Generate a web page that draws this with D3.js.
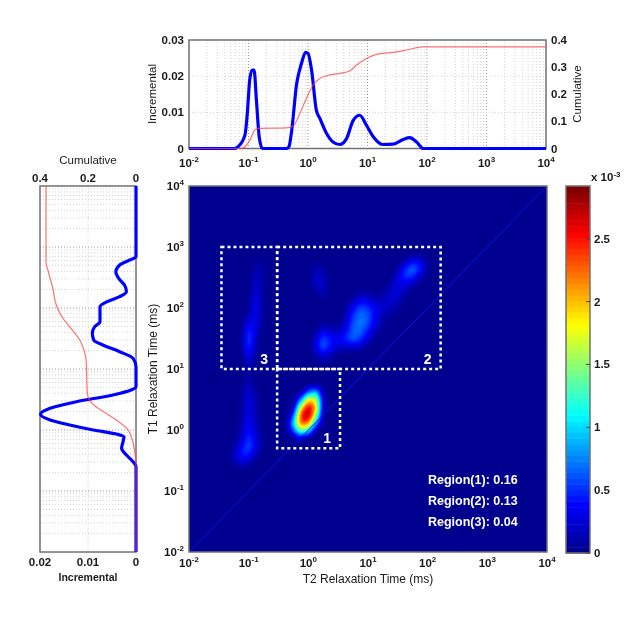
<!DOCTYPE html>
<html lang="en">
<head>
<meta charset="UTF-8">
<title>T1-T2 relaxation map</title>
<script src="https://cdn.jsdelivr.net/npm/d3@7"></script>
<style>
  body { margin: 0; background: #fff; }
  svg { display: block; font-family: "Liberation Sans", Arial, sans-serif; filter: blur(0.35px); }
  text { fill: #1a1a1a; }
  .tick-label { font-size: 11.5px; font-weight: bold; }
  .title { font-size: 11.5px; }
  .frame { fill: none; stroke: #707070; stroke-width: 1.5px; }
  .grid-minor { stroke: #d2d2d2; stroke-width: 1px; stroke-dasharray: 1 2; }
  .grid-major { stroke: #999; stroke-width: 1px; stroke-dasharray: 1 2; }
  .incremental { fill: none; stroke: #0000ff; stroke-width: 3.2px; }
  .cumulative { fill: none; stroke: #ff4040; stroke-width: 1.2px; stroke-opacity: .75; }
  .region { fill: none; stroke: #fff; stroke-width: 2.5px; stroke-dasharray: 3 3; }
  .note { fill: #fff; font-weight: bold; }
</style>
</head>
<body>
<svg width="640" height="624"></svg>
<script>
// axis ticks
const decades = [-2, -1, 0, 1, 2, 3, 4];
const incTicks = [0, 0.01, 0.02, 0.03];
const cumTicks = [0, 0.1, 0.2, 0.3, 0.4];
const sideIncTicks = [0, 0.01, 0.02];
const sideCumTicks = [0, 0.2, 0.4];
const colorTicks = [0, 0.5, 1, 1.5, 2, 2.5];

// T2 projection (top plot), log10(ms)
const t2IncLog = [-2, -1.23, -1.175, -1.06, -1.02, -0.98, -0.94, -0.906, -0.867, -0.82, -0.766, -0.36, -0.32, -0.28, -0.19, -0.11, -0.04, 0, 0.06, 0.14, 0.2, 0.31, 0.42, 0.535, 0.65, 0.76, 0.87, 0.98, 1.1, 1.26, 1.43, 1.6, 1.71, 1.825, 1.94, 4];
const t2Inc = [0, 0, 0.0005, 0.0037, 0.0097, 0.0189, 0.0217, 0.0217, 0.0134, 0.0032, 0, 0, 0.0005, 0.0042, 0.018, 0.0235, 0.0266, 0.0263, 0.0217, 0.0106, 0.0083, 0.0042, 0.0018, 0.0011, 0.0028, 0.0078, 0.0092, 0.0065, 0.0032, 0.0011, 0.0012, 0.0025, 0.003, 0.0018, 0, 0];
const t2CumLog = [-2, -1.147, -1.063, -0.979, -0.895, -0.839, -0.362, -0.25, -0.138, -0.026, 0.086, 0.199, 0.311, 0.535, 0.703, 0.815, 0.984, 1.152, 1.489, 1.713, 1.937, 4];
const t2Cum = [0, 0, 0.006, 0.03, 0.068, 0.074, 0.076, 0.082, 0.129, 0.185, 0.234, 0.258, 0.268, 0.277, 0.286, 0.308, 0.332, 0.347, 0.356, 0.366, 0.375, 0.375];

// T1 projection (left plot), log10(ms)
const t1IncLog = [4, 2.84, 2.787, 2.705, 2.595, 2.486, 2.377, 2.268, 2.186, 2.104, 2.022, 1.913, 1.776, 1.694, 1.585, 1.475, 1.393, 1.284, 1.175, 1.038, 0.71, 0.656, 0.574, 0.464, 0.355, 0.257, 0.164, 0.082, 0, -0.066, -0.11, -0.19, -0.3, -0.41, -0.52, -0.6, -2];
const t1Inc = [0, 0, 0.0013, 0.0034, 0.0042, 0.0036, 0.0024, 0.002, 0.0034, 0.006, 0.0075, 0.0075, 0.0075, 0.0086, 0.0091, 0.0088, 0.0069, 0.0034, 0.0006, 0, 0, 0.001, 0.0048, 0.0124, 0.0179, 0.0199, 0.0179, 0.0138, 0.0089, 0.0041, 0.0025, 0.0027, 0.003, 0.002, 0.0006, 0, 0];
const t1CumLog = [4, 2.74, 2.62, 2.46, 2.295, 2.13, 1.967, 1.803, 1.64, 1.475, 1.31, 1.148, 0.82, 0.6, 0.464, 0.38, 0.27, 0.164, 0, -0.23, -0.41, -0.6, -2];
const t1Cum = [0.375, 0.375, 0.367, 0.356, 0.345, 0.338, 0.324, 0.299, 0.266, 0.234, 0.217, 0.208, 0.205, 0.203, 0.19, 0.167, 0.123, 0.082, 0.033, 0.011, 0.003, 0, 0];

// 2D map read on a grid of 1/8 decade, in units of 1e-5.
// first entry is grid row 39 (counted up from T1 = 10^-2), keys are T2 columns, blanks are 0
const gridStep = 0.125;
const heatTopRow = 39;
const heatRows = [
  {30:3,31:4},
  {9:9,10:7,17:5,18:3,29:16,30:44,31:36,32:7},
  {9:14,10:8,17:15,18:12,28:11,29:54,30:74,31:44,32:5},
  {9:20,10:8,17:21,18:18,27:3,28:27,29:52,30:44,31:13},
  {9:25,10:6,17:18,18:21,27:11,28:32,29:27,30:11,31:1},
  {8:2,9:30,10:4,17:7,18:15,22:2,23:9,24:7,25:3,26:7,27:22,28:27,29:11,30:1},
  {8:3,9:34,10:3,18:6,22:14,23:34,24:30,25:16,26:16,27:24,28:19,29:4},
  {8:6,9:38,10:2,21:6,22:36,23:60,24:52,25:32,26:22,27:16,28:8},
  {8:14,9:36,21:12,22:52,23:72,24:62,25:32,26:14,27:8,28:3},
  {8:32,9:32,18:7,19:4,20:4,21:20,22:62,23:74,24:60,25:28,26:7,27:3},
  {8:54,9:24,17:5,18:32,19:19,20:16,21:34,22:66,23:68,24:42,25:14,26:3},
  {8:64,9:14,17:19,18:60,19:40,20:35,21:49,22:68,23:55,24:24,25:4},
  {8:58,9:8,17:30,18:68,19:40,20:24,21:24,22:30,23:19,24:5},
  {8:42,9:4,17:13,18:36,19:16,20:4},
  {8:25,9:2,17:3,18:8,19:3},
  {8:13},
  {8:10},
  {7:2,8:18,9:3,17:3},
  {7:4,8:26,9:6,16:60,17:100,18:5},
  {7:5,8:31,9:9,15:64,16:193,17:175,18:14},
  {7:5,8:34,9:11,15:177,16:275,17:210,18:8},
  {7:6,8:34,9:12,14:42,15:250,16:292,17:170},
  {7:8,8:39,9:15,14:95,15:240,16:238,17:90},
  {7:12,8:44,9:18,14:64,15:162,16:122},
  {6:1,7:18,8:54,9:24,10:2,14:3,15:30},
  {6:5,7:32,8:62,9:30,10:3},
  {5:1,6:13,7:47,8:52,9:16,10:1},
  {6:10,7:32,8:20,9:3},
  {6:3,7:6,8:3}
];

// region boxes, ms: T2 from/to, T1 from/to
const regionNames = ["1", "2", "3"];
const regionT2 = [[0.3, 3.4], [0.3, 165], [0.035, 0.3]];
const regionT1 = [[0.5, 10], [10, 1000], [10, 1000]];
const regionSummary = ["Region(1): 0.16", "Region(2): 0.13", "Region(3): 0.04"];

const svg = d3.select("svg");

const mapX = d3.scaleLog().domain([1e-2, 1e4]).range([189, 547]);
const mapY = d3.scaleLog().domain([1e-2, 1e4]).range([552, 186]);

// top plot scales
const topX = d3.scaleLog().domain([1e-2, 1e4]).range([189, 546]);
const topInc = d3.scaleLinear().domain([0, 0.03]).range([148.5, 40]);
const topCum = d3.scaleLinear().domain([0, 0.4]).range([148.5, 40]);
// left plot scales, reversed
const sideInc = d3.scaleLinear().domain([0, 0.02]).range([136, 40]);
const sideCum = d3.scaleLinear().domain([0, 0.4]).range([136, 40]);

const minorLogs = [];
d3.range(-2, 4).forEach(e => d3.range(2, 10).forEach(m => minorLogs.push(m * 10 ** e)));

// labels like 10^-2 with a raised exponent
function powerText(g, exp) {
  g.append("tspan").text("10");
  g.append("tspan").attr("dy", -5).style("font-size", "8px").text(exp);
}

function bottomPowers(scale, y) {
  svg.append("g").selectAll("text").data(decades).join("text")
    .attr("class", "tick-label")
    .attr("x", d => scale(10 ** d))
    .attr("y", y)
    .attr("text-anchor", "middle")
    .each(function(d) { powerText(d3.select(this), d); });
}

// ---- top plot
const topG = svg.append("g");
topG.selectAll(".grid-minor").data(minorLogs).join("line").attr("class", "grid-minor")
  .attr("x1", d => topX(d)).attr("x2", d => topX(d)).attr("y1", 40).attr("y2", 148.5);
topG.selectAll(".mv").data(decades.slice(1, -1)).join("line").attr("class", "grid-major mv")
  .attr("x1", d => topX(10 ** d)).attr("x2", d => topX(10 ** d)).attr("y1", 40).attr("y2", 148.5);
topG.selectAll(".mh").data(incTicks.slice(1, -1)).join("line").attr("class", "grid-minor mh")
  .attr("x1", 189).attr("x2", 546).attr("y1", d => topInc(d)).attr("y2", d => topInc(d));
topG.append("rect").attr("class", "frame").attr("x", 189).attr("y", 40).attr("width", 357).attr("height", 108.5);

const topIncLine = d3.line().curve(d3.curveMonotoneX).x(d => topX(10 ** d[0])).y(d => topInc(d[1]));
const topCumLine = d3.line().curve(d3.curveMonotoneX).x(d => topX(10 ** d[0])).y(d => topCum(d[1]));
topG.append("path").attr("class", "incremental").attr("d", topIncLine(d3.zip(t2IncLog, t2Inc)));
topG.append("path").attr("class", "cumulative").attr("d", topCumLine(d3.zip(t2CumLog, t2Cum)));

topG.selectAll(".il").data(incTicks).join("text").attr("class", "tick-label il")
  .attr("x", 184).attr("y", d => topInc(d) + 4).attr("text-anchor", "end").text(d => d === 0 ? "0" : d3.format(".2f")(d));
topG.selectAll(".cl").data(cumTicks).join("text").attr("class", "tick-label cl")
  .attr("x", 551).attr("y", d => topCum(d) + 4).text(d => d === 0 ? "0" : d3.format(".1f")(d));
bottomPowers(topX, 167);
topG.append("text").attr("class", "title").attr("transform", "translate(156,94) rotate(-90)")
  .attr("text-anchor", "middle").text("Incremental");
topG.append("text").attr("class", "title").attr("transform", "translate(581,94) rotate(-90)")
  .attr("text-anchor", "middle").text("Cumulative");

// ---- left plot
const sideG = svg.append("g");
sideG.selectAll(".grid-minor").data(minorLogs).join("line").attr("class", "grid-minor")
  .attr("y1", d => mapY(d)).attr("y2", d => mapY(d)).attr("x1", 40).attr("x2", 136);
sideG.selectAll(".mh").data(decades.slice(1, -1)).join("line").attr("class", "grid-major mh")
  .attr("y1", d => mapY(10 ** d)).attr("y2", d => mapY(10 ** d)).attr("x1", 40).attr("x2", 136);
sideG.append("line").attr("class", "grid-minor")
  .attr("x1", sideInc(0.01)).attr("x2", sideInc(0.01)).attr("y1", 186).attr("y2", 552);
sideG.append("rect").attr("class", "frame").attr("x", 40).attr("y", 186).attr("width", 96).attr("height", 366);

const sideIncLine = d3.line().curve(d3.curveMonotoneY).x(d => sideInc(d[1])).y(d => mapY(10 ** d[0]));
const sideCumLine = d3.line().curve(d3.curveMonotoneY).x(d => sideCum(d[1])).y(d => mapY(10 ** d[0]));
sideG.append("path").attr("class", "incremental").attr("d", sideIncLine(d3.zip(t1IncLog, t1Inc)));
sideG.append("path").attr("class", "cumulative").attr("d", sideCumLine(d3.zip(t1CumLog, t1Cum)));

sideG.selectAll(".cl").data(sideCumTicks).join("text").attr("class", "tick-label cl")
  .attr("x", d => sideCum(d)).attr("y", 182).attr("text-anchor", "middle").text(d => d === 0 ? "0" : d3.format(".1f")(d));
sideG.selectAll(".il").data(sideIncTicks).join("text").attr("class", "tick-label il")
  .attr("x", d => sideInc(d)).attr("y", 566).attr("text-anchor", "middle").text(d => d === 0 ? "0" : d3.format(".2f")(d));
sideG.append("text").attr("class", "title").attr("x", 88).attr("y", 164).attr("text-anchor", "middle").text("Cumulative");
sideG.append("text").attr("class", "title").style("font-weight", "bold").style("font-size", "10.5px")
  .attr("x", 88).attr("y", 581).attr("text-anchor", "middle").text("Incremental");

// ---- colour map
const jetStops = d3.scaleLinear()
  .domain([0, 1 / 8, 3 / 8, 5 / 8, 7 / 8, 1])
  .range(["#00008f", "#0000ff", "#00ffff", "#ffff00", "#ff0000", "#800000"]);
const colorMax = 2.92;
const levels = 64;
const levelColors = d3.range(levels).map(i => jetStops(i / (levels - 1)));
const heatColor = d3.scaleQuantize().domain([0, colorMax]).range(levelColors);

// ---- heat map: grid values sampled through the scales, lightly smoothed
const mapW = 358, mapH = 366;
const cell = (row, col) => {
  const r = heatRows[heatTopRow - row];
  return r && r[col] ? r[col] / 100 : 0;
};
const samples = new Float64Array(mapW * mapH);
for (let py = 0; py < mapH; py++) {
  const row = (Math.log10(mapY.invert(186 + py + 0.5)) + 2) / gridStep;
  const r0 = Math.floor(row), rf = row - r0;
  for (let px = 0; px < mapW; px++) {
    const col = (Math.log10(mapX.invert(189 + px + 0.5)) + 2) / gridStep;
    const c0 = Math.floor(col), cf = col - c0;
    samples[py * mapW + px] =
      cell(r0, c0) * (1 - rf) * (1 - cf) + cell(r0, c0 + 1) * (1 - rf) * cf +
      cell(r0 + 1, c0) * rf * (1 - cf) + cell(r0 + 1, c0 + 1) * rf * cf;
  }
}
d3.blur2({data: samples, width: mapW, height: mapH}, 2);

const canvas = document.createElement("canvas");
canvas.width = mapW; canvas.height = mapH;
const ctx = canvas.getContext("2d");
const img = ctx.createImageData(mapW, mapH);
samples.forEach((v, i) => {
  const c = d3.rgb(heatColor(v));
  img.data[i * 4] = c.r; img.data[i * 4 + 1] = c.g; img.data[i * 4 + 2] = c.b; img.data[i * 4 + 3] = 255;
});
ctx.putImageData(img, 0, 0);

const mapG = svg.append("g");
mapG.append("image").attr("x", 189).attr("y", 186).attr("width", mapW).attr("height", mapH)
  .attr("href", canvas.toDataURL());
mapG.append("line")
  .attr("x1", mapX(1e-2)).attr("y1", mapY(1e-2)).attr("x2", mapX(1e4)).attr("y2", mapY(1e4))
  .attr("stroke", "#0a14e6").attr("stroke-width", 1);

mapG.selectAll(".region").data(regionNames).join("rect").attr("class", "region")
  .attr("x", (d, i) => mapX(regionT2[i][0]))
  .attr("y", (d, i) => mapY(regionT1[i][1]))
  .attr("width", (d, i) => mapX(regionT2[i][1]) - mapX(regionT2[i][0]))
  .attr("height", (d, i) => mapY(regionT1[i][0]) - mapY(regionT1[i][1]));
mapG.selectAll(".rn").data(regionNames).join("text").attr("class", "note rn")
  .style("font-size", "14px").attr("text-anchor", "end")
  .attr("x", (d, i) => mapX(regionT2[i][1]) - 9)
  .attr("y", (d, i) => mapY(regionT1[i][0]) - 5)
  .text(d => d);
mapG.selectAll(".rs").data(regionSummary).join("text").attr("class", "note rs")
  .style("font-size", "12.5px").attr("x", 428).attr("y", (d, i) => 484 + i * 21).text(d => d);
mapG.append("rect").attr("class", "frame").attr("x", 189).attr("y", 186).attr("width", mapW).attr("height", mapH);

bottomPowers(mapX, 567);
mapG.selectAll(".yl").data(decades).join("text").attr("class", "tick-label yl")
  .attr("x", 184).attr("y", d => mapY(10 ** d) + 4).attr("text-anchor", "end")
  .each(function(d) { powerText(d3.select(this), d); });
mapG.append("text").attr("class", "title").style("font-size", "12px")
  .attr("x", 368).attr("y", 583).attr("text-anchor", "middle").text("T2 Relaxation Time (ms)");
mapG.append("text").attr("class", "title").style("font-size", "12px")
  .attr("transform", "translate(157,369) rotate(-90)").attr("text-anchor", "middle").text("T1 Relaxation Time (ms)");

// ---- colour bar
const barY = d3.scaleLinear().domain([0, colorMax]).range([553, 186]);
const barG = svg.append("g");
barG.selectAll("rect").data(levelColors).join("rect")
  .attr("x", 566).attr("width", 24)
  .attr("y", (d, i) => barY((i + 1) * colorMax / levels))
  .attr("height", barY(0) - barY(colorMax / levels) + 0.5)
  .attr("fill", d => d);
barG.append("rect").attr("class", "frame").attr("x", 566).attr("y", 186).attr("width", 24).attr("height", 367);
barG.selectAll(".bt").data(colorTicks).join("line").attr("class", "bt")
  .attr("x1", 590).attr("x2", 586).attr("y1", d => barY(d)).attr("y2", d => barY(d)).attr("stroke", "#444");
barG.selectAll(".bl").data(colorTicks).join("text").attr("class", "tick-label bl")
  .attr("x", 594).attr("y", d => barY(d) + 4).text(d => d);
const expo = barG.append("text").attr("class", "tick-label").attr("x", 591).attr("y", 181);
expo.append("tspan").text("x 10");
expo.append("tspan").attr("dy", -4).style("font-size", "8px").text("-3");
</script>
</body>
</html>
